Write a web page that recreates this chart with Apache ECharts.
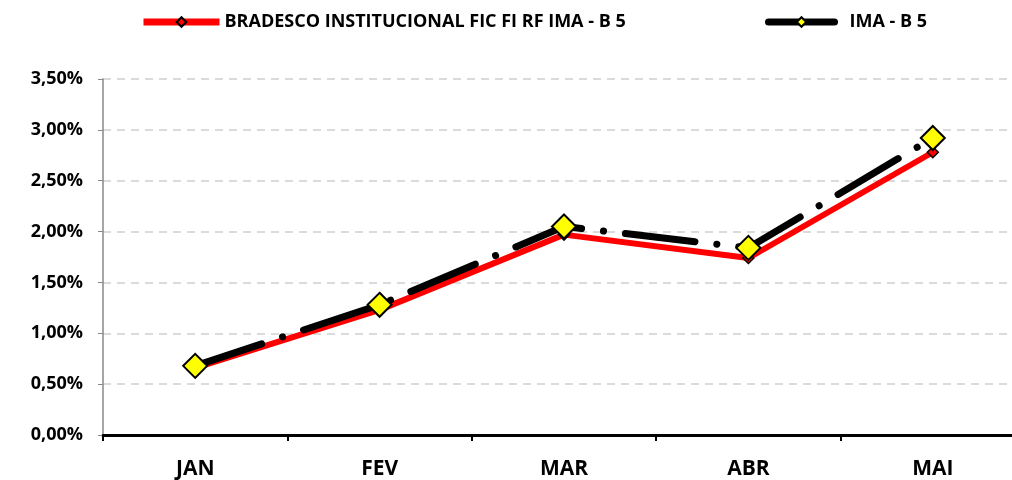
<!DOCTYPE html>
<html>
<head>
<meta charset="utf-8">
<script src="https://cdn.jsdelivr.net/npm/echarts@6/dist/echarts.min.js"></script>
<style>
  html, body { margin: 0; padding: 0; background: #fff; overflow: hidden; }
  #chart { width: 1025px; height: 480px; }
</style>
</head>
<body>
<div id="chart"></div>
<script>
// meses e rentabilidades (%)
const meses = ['JAN', 'FEV', 'MAR', 'ABR', 'MAI'];
const bradesco = [0.66, 1.23, 1.97, 1.74, 2.78];
const imaB5 = [0.68, 1.28, 2.05, 1.84, 2.92];
const nomes = ['BRADESCO INSTITUCIONAL FIC FI RF IMA - B 5', 'IMA - B 5'];

const fonte = '"Open Sans", "Liberation Sans", sans-serif';
const myChart = echarts.init(document.getElementById('chart'));

const legendaTexto = { fontFamily: fonte, fontWeight: 'bold', fontSize: 18, color: '#000' };

myChart.setOption({
  animation: false,
  legend: [
    {
      top: 8,
      left: 135,
      itemWidth: 76,
      itemHeight: 12,
      textStyle: legendaTexto,
      data: [{ name: nomes[0], lineStyle: { type: 'solid', width: 7 } }]
    },
    {
      top: 8,
      left: 760,
      itemWidth: 66,
      itemHeight: 12,
      textStyle: Object.assign({ padding: [0, 0, 0, 10] }, legendaTexto),
      data: [{ name: nomes[1], lineStyle: { type: 'solid', width: 7 } }]
    }
  ],
  grid: { left: 103, right: 0, top: 79, bottom: 45 },
  xAxis: {
    type: 'category',
    data: meses,
    axisLine: { lineStyle: { color: '#000', width: 3 } },
    axisTick: { show: true, length: 6, lineStyle: { color: '#000', width: 2 } },
    axisLabel: { fontFamily: fonte, fontWeight: 'bold', fontSize: 21, color: '#000', margin: 24 }
  },
  yAxis: {
    type: 'value',
    min: 0,
    max: 3.5,
    interval: 0.5,
    axisLine: { show: true, lineStyle: { color: '#888', width: 1.5 } },
    axisTick: { show: true, length: 5, lineStyle: { color: '#888' } },
    splitLine: { lineStyle: { color: '#d0d0d0', type: [8, 6], width: 1.5 } },
    axisLabel: {
      fontFamily: fonte, fontWeight: 'bold', fontSize: 18, color: '#000', margin: 20,
      formatter: v => v.toFixed(2).replace('.', ',') + '%'
    }
  },
  series: [
    {
      name: nomes[0],
      type: 'line',
      data: bradesco,
      symbol: 'diamond',
      symbolSize: 11,
      lineStyle: { color: '#ff0000', width: 6 },
      itemStyle: { color: '#ff0000', borderColor: '#000', borderWidth: 1.5 }
    },
    {
      name: nomes[1],
      type: 'line',
      data: imaB5,
      symbol: 'diamond',
      symbolSize: 24,
      lineStyle: { color: '#000', width: 7, type: [70, 22, 0.1, 22], cap: 'round' },
      itemStyle: { color: '#ffff00', borderColor: '#000', borderWidth: 2 }
    }
  ]
});
</script>
</body>
</html>
